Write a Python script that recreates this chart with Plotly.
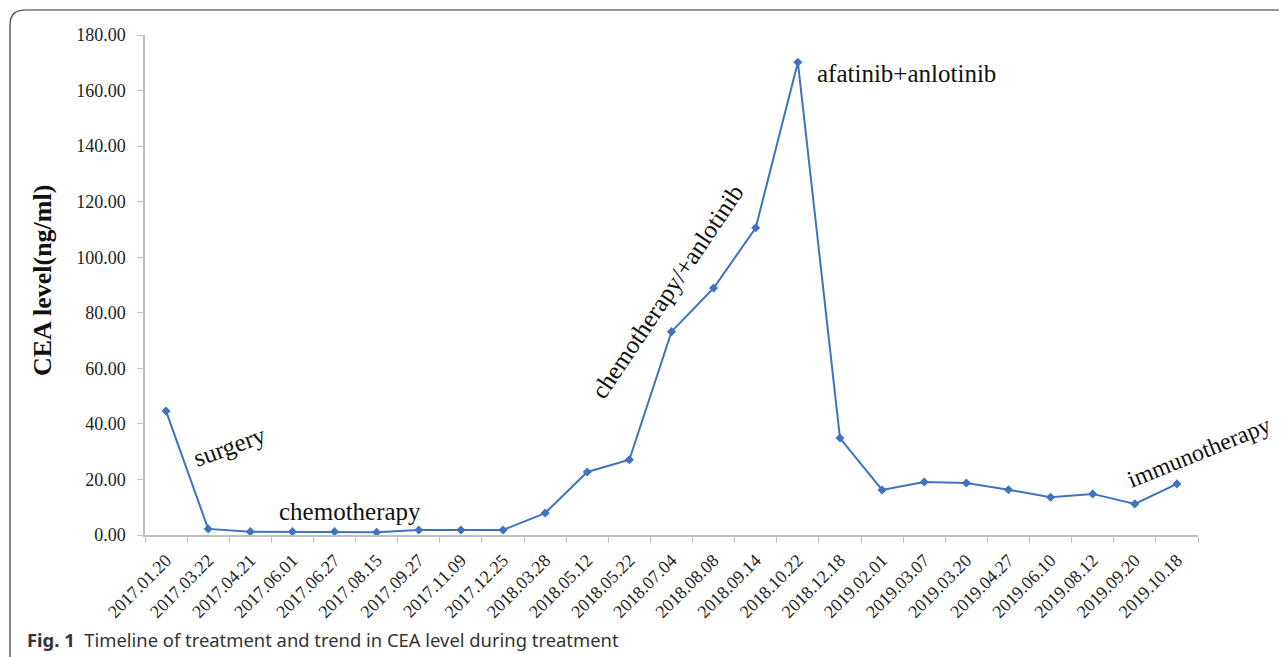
import plotly.graph_objects as go

dates = ["2017.01.20", "2017.03.22", "2017.04.21", "2017.06.01", "2017.06.27",
         "2017.08.15", "2017.09.27", "2017.11.09", "2017.12.25", "2018.03.28",
         "2018.05.12", "2018.05.22", "2018.07.04", "2018.08.08", "2018.09.14",
         "2018.10.22", "2018.12.18", "2019.02.01", "2019.03.07", "2019.03.20",
         "2019.04.27", "2019.06.10", "2019.08.12", "2019.09.20", "2019.10.18"]
cea = [44.6, 2.2, 1.2, 1.2, 1.2, 1.0, 1.8, 1.8, 1.8, 7.9,
       22.7, 27.1, 73.2, 88.9, 110.6, 170.2, 34.9, 16.2, 19.1, 18.7,
       16.3, 13.6, 14.8, 11.2, 18.4]

ann_text = ["surgery", "chemotherapy", "chemotherapy/+anlotinib",
            "afatinib+anlotinib", "immunotherapy"]

W, H = 1287, 657
OFF = 8  # page body margin
# target plot area in screen pixels
SL, ST, SR, SB = 145, 35, 1198, 535
L, T = SL - OFF, ST - OFF
R, B = W - (SR - OFF), H - (SB - OFF)
pw, ph = SR - SL, SB - ST

def px(x):
    return (x - SL) / pw

def py(y):
    return (SB - y) / ph

blue = "#3f73bf"
serif = "Liberation Serif, Times New Roman, serif"

fig = go.Figure()
fig.add_trace(go.Scatter(
    x=dates, y=cea, mode="lines+markers",
    line=dict(color=blue, width=2),
    marker=dict(symbol="diamond", size=7, color=blue),
    cliponaxis=False, showlegend=False,
))

fig.update_layout(
    width=W, height=H,
    margin=dict(l=L, r=R, t=T, b=B, autoexpand=False),
    plot_bgcolor="white", paper_bgcolor="white",
    font=dict(family=serif, color="#222"),
    xaxis=dict(
        type="category", tickangle=-45, showgrid=False,
        showline=True, linecolor="#bfbfbf", linewidth=1.5,
        ticks="outside", ticklen=6, tickcolor="#bfbfbf", tickson="boundaries",
        tickfont=dict(family=serif, size=18, color="#222"),
        ticklabelstandoff=6,
        range=[-0.5, len(dates) - 0.5],
    ),
    yaxis=dict(
        range=[0, 180], dtick=20, tickformat=".2f", showgrid=False,
        showline=True, linecolor="#bfbfbf", linewidth=1.5,
        ticks="outside", ticklen=6, tickcolor="#bfbfbf",
        tickfont=dict(family=serif, size=18, color="#222"),
        ticklabelstandoff=8,
        zeroline=False,
    ),
)

# y-axis title
fig.add_annotation(xref="paper", yref="paper", x=px(42), y=py(281),
                   xanchor="center", yanchor="middle",
                   text="<b>CEA level(ng/ml)</b>", showarrow=False, textangle=-90,
                   font=dict(family=serif, size=26, color="#111"))

# treatment annotations
ann = [
    (ann_text[0], 229, 446, -20, 25),
    (ann_text[1], 350, 511, 0, 25),
    (ann_text[2], 667, 291, -56, 25),
    (ann_text[3], 906, 74, 0, 25),
    (ann_text[4], 1199, 452, -22, 24),
]
for t, x, y, a, s in ann:
    fig.add_annotation(xref="paper", yref="paper", x=px(x), y=py(y), text=t,
                       xanchor="center", yanchor="middle",
                       showarrow=False, textangle=a,
                       font=dict(family=serif, size=s, color="#111"))

# caption
fig.add_annotation(xref="paper", yref="paper", x=px(25), y=py(639),
                   xanchor="left", yanchor="middle",
                   text="<b>Fig. 1</b>  Timeline of treatment and trend in CEA level during treatment",
                   showarrow=False,
                   font=dict(family="Noto Sans, Open Sans, sans-serif", size=18.4, color="#333"))

# rounded frame
x0, x1 = px(10), px(1300)
yt, yb = py(10), py(680)
rx, ry = 15 / pw, 15 / ph
path = (f"M {x0},{yb} L {x0},{yt - ry} Q {x0},{yt} {x0 + rx},{yt} L {x1},{yt}")
fig.add_shape(type="path", xref="paper", yref="paper", path=path,
              line=dict(color="#333", width=1.2), layer="below")

fig.write_html("out.html")
